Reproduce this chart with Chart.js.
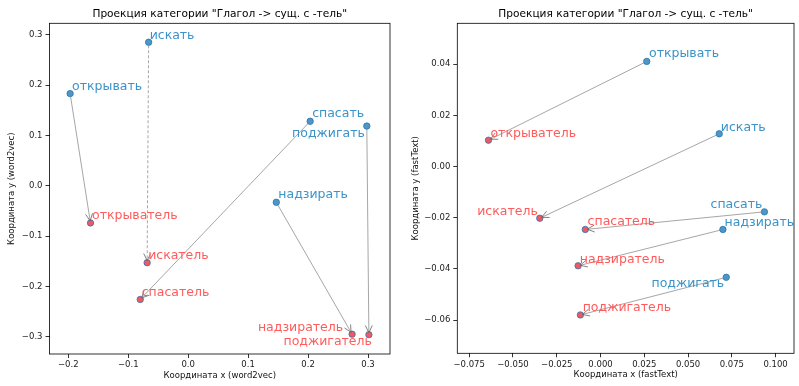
<!DOCTYPE html>
<html lang="ru">
<head>
<meta charset="utf-8">
<title>Проекция категории "Глагол -> сущ. с -тель"</title>
<script src="https://cdn.jsdelivr.net/npm/chart.js@4.4.1/dist/chart.umd.min.js"></script>
<style>
  html, body { margin: 0; padding: 0; background: #fff; }
  #wrap { position: relative; width: 799px; height: 386px; }
  canvas { position: absolute; top: 0; }
  #w2v { left: 0; }
  #ft { left: 400px; }
</style>
</head>
<body>
<div id="wrap">
  <canvas id="w2v" width="400" height="386"></canvas>
  <canvas id="ft" width="399" height="386"></canvas>
</div>
<script>
"use strict";

var TITLE = 'Проекция категории "Глагол -> сущ. с -тель"';

var VERBS = ["открывать", "искать", "спасать", "надзирать", "поджигать"];
var NOUNS = ["открыватель", "искатель", "спасатель", "надзиратель", "поджигатель"];

// word2vec
var W2V_VERB_X = [-0.197, -0.066, 0.2035, 0.147, 0.298];
var W2V_VERB_Y = [0.183, 0.285, 0.128, -0.033, 0.1185];
var W2V_NOUN_X = [-0.163, -0.0685, -0.080, 0.2735, 0.3015];
var W2V_NOUN_Y = [-0.074, -0.153, -0.226, -0.295, -0.296];
var W2V_X_TICKS = [-0.2, -0.1, 0.0, 0.1, 0.2, 0.3];
var W2V_Y_TICKS = [-0.3, -0.2, -0.1, 0.0, 0.1, 0.2, 0.3];

// fastText
var FT_VERB_X = [0.0264, 0.0678, 0.0936, 0.0699, 0.0718];
var FT_VERB_Y = [0.0411, 0.0128, -0.0177, -0.0246, -0.0433];
var FT_NOUN_X = [-0.0640, -0.0347, -0.0087, -0.0128, -0.0115];
var FT_NOUN_Y = [0.0103, -0.0202, -0.0246, -0.0388, -0.0580];
var FT_X_TICKS = [-0.075, -0.050, -0.025, 0.000, 0.025, 0.050, 0.075, 0.100];
var FT_Y_TICKS = [-0.06, -0.04, -0.02, 0.00, 0.02, 0.04];

// смещения подписей от точки, px: [dx, dy, выравнивание]
var W2V_VERB_PLACE = [[2, -4, "left"], [1, -3, "left"], [2, -4, "left"], [2, -4, "left"], [-2, 11, "right"]];
var W2V_NOUN_PLACE = [[1.5, -3.5, "left"], [1, -3.5, "left"], [1.5, -3.5, "left"], [-9, -3.5, "right"], [3, 10, "right"]];
var FT_VERB_PLACE = [[2.3, -4.3, "left"], [1.6, -3.3, "left"], [-2, -3.7, "right"], [1.7, -3.7, "left"], [-2, 9.5, "right"]];
var FT_NOUN_PLACE = [[2, -3.6, "left"], [-2, -3.3, "right"], [2.3, -4, "left"], [1.6, -3.3, "left"], [2.3, -4.3, "left"]];

var FONT = "'DejaVu Sans', sans-serif";
var BLUE_POINT = "rgba(31, 119, 180, 0.78)";
var RED_POINT = "rgba(240, 70, 80, 0.9)";
var BLUE_TEXT = "#3b93c9";
var RED_TEXT = "#ff5b5b";
var ARROW_COLOR = "rgba(128, 128, 128, 0.7)";

function toPoints(xs, ys) {
  return xs.map(function (x, i) { return { x: x, y: ys[i] }; });
}

function fmt(digits) {
  return function (v) {
    if (Math.abs(v) < 1e-9) v = 0;
    var s = Math.abs(v).toFixed(digits);
    return v < 0 ? "\u2212" + s : s;
  };
}

function drawArrow(ctx, x1, y1, x2, y2, dashed) {
  var ang = Math.atan2(y2 - y1, x2 - x1);
  var c = Math.cos(ang), s = Math.sin(ang);
  var sx = x1 + c * 3, sy = y1 + s * 3;
  var ex = x2 - c * 2, ey = y2 - s * 2;
  var len = 8, half = 0.45;
  ctx.save();
  ctx.strokeStyle = ARROW_COLOR;
  ctx.lineWidth = 1;
  if (dashed) ctx.setLineDash([3, 2]);
  ctx.beginPath();
  ctx.moveTo(sx, sy);
  ctx.lineTo(ex, ey);
  ctx.stroke();
  ctx.setLineDash([]);
  ctx.strokeStyle = "rgba(100, 100, 100, 0.8)";
  ctx.beginPath();
  ctx.moveTo(ex - len * Math.cos(ang - half), ey - len * Math.sin(ang - half));
  ctx.lineTo(ex, ey);
  ctx.lineTo(ex - len * Math.cos(ang + half), ey - len * Math.sin(ang + half));
  ctx.stroke();
  ctx.restore();
}

function annotPlugin(cfg) {
  return {
    id: "annot",
    afterDatasetsDraw: function (chart) {
      var ctx = chart.ctx;
      var xs = chart.scales.x, ys = chart.scales.y;
      var i, px, py;
      for (i = 0; i < cfg.verbX.length; i++) {
        drawArrow(ctx,
          xs.getPixelForValue(cfg.verbX[i]), ys.getPixelForValue(cfg.verbY[i]),
          xs.getPixelForValue(cfg.nounX[i]), ys.getPixelForValue(cfg.nounY[i]),
          cfg.dashed.indexOf(i) >= 0);
      }
      ctx.save();
      ctx.font = "12.5px " + FONT;
      ctx.textBaseline = "alphabetic";
      function label(text, x, y, place, color) {
        px = xs.getPixelForValue(x);
        py = ys.getPixelForValue(y);
        ctx.fillStyle = color;
        ctx.textAlign = place[2];
        ctx.fillText(text, px + place[0], py + place[1]);
      }
      for (i = 0; i < VERBS.length; i++) {
        label(VERBS[i], cfg.verbX[i], cfg.verbY[i], cfg.verbPlace[i], BLUE_TEXT);
        label(NOUNS[i], cfg.nounX[i], cfg.nounY[i], cfg.nounPlace[i], RED_TEXT);
      }
      ctx.restore();
    },
    afterDraw: function (chart) {
      var ctx = chart.ctx, a = chart.chartArea;
      ctx.save();
      ctx.strokeStyle = "#000";
      ctx.lineWidth = 0.8;
      ctx.strokeRect(a.left, a.top, a.right - a.left, a.bottom - a.top);
      ctx.fillStyle = "#000";
      ctx.font = "10.6px " + FONT;
      ctx.textAlign = "center";
      ctx.textBaseline = "middle";
      ctx.fillText(TITLE, (a.left + a.right) / 2, 14);
      ctx.restore();
    }
  };
}

function render(canvasId, cfg) {
  var canvas = document.getElementById(canvasId);
  return new Chart(canvas, {
    type: "scatter",
    data: {
      datasets: [{
        data: toPoints(cfg.verbX, cfg.verbY),
        backgroundColor: BLUE_POINT,
        borderColor: BLUE_POINT,
        borderWidth: 1,
        pointRadius: 3.2
      }, {
        data: toPoints(cfg.nounX, cfg.nounY),
        backgroundColor: RED_POINT,
        borderColor: "rgba(31, 119, 180, 0.75)",
        borderWidth: 1,
        pointRadius: 3.2
      }]
    },
    options: {
      responsive: false,
      animation: false,
      devicePixelRatio: 1,
      layout: { padding: { top: 23.3, right: cfg.padRight, left: 0, bottom: 0 } },
      plugins: { legend: { display: false }, tooltip: { enabled: false } },
      scales: {
        x: {
          type: "linear",
          min: cfg.xMin, max: cfg.xMax,
          afterBuildTicks: function (s) { s.ticks = cfg.xTicks.map(function (v) { return { value: v }; }); },
          afterFit: function (s) { s.height = cfg.xAxisH; },
          grid: { drawOnChartArea: false, drawTicks: true, tickLength: 4, color: "#000", lineWidth: 0.8 },
          border: { display: false },
          ticks: { color: "#222", padding: 2, maxRotation: 0, font: { family: FONT, size: 8.5 }, callback: fmt(cfg.xDigits) },
          title: { display: true, text: cfg.xTitle, color: "#111", font: { family: FONT, size: 8.5 }, padding: { top: 0, bottom: cfg.xTitlePad } }
        },
        y: {
          type: "linear",
          min: cfg.yMin, max: cfg.yMax,
          afterBuildTicks: function (s) { s.ticks = cfg.yTicks.map(function (v) { return { value: v }; }); },
          afterFit: function (s) { s.width = cfg.yAxisW; },
          grid: { drawOnChartArea: false, drawTicks: true, tickLength: 4, color: "#000", lineWidth: 0.8 },
          border: { display: false },
          ticks: { color: "#222", padding: 3, font: { family: FONT, size: 8.5 }, callback: fmt(cfg.yDigits) },
          title: { display: true, text: cfg.yTitle, color: "#111", font: { family: FONT, size: 8.5 }, padding: { top: cfg.yTitlePad, bottom: 0 } }
        }
      }
    },
    plugins: [annotPlugin(cfg)]
  });
}

render("w2v", {
  verbX: W2V_VERB_X, verbY: W2V_VERB_Y, nounX: W2V_NOUN_X, nounY: W2V_NOUN_Y,
  verbPlace: W2V_VERB_PLACE, nounPlace: W2V_NOUN_PLACE, dashed: [1],
  xTicks: W2V_X_TICKS, yTicks: W2V_Y_TICKS, xDigits: 1, yDigits: 1,
  xMin: -0.2314, xMax: 0.3367, yMin: -0.3344, yMax: 0.3227,
  xTitle: "Координата x (word2vec)", yTitle: "Координата y (word2vec)",
  yAxisW: 49.5, xAxisH: 32, padRight: 10, xTitlePad: 5, yTitlePad: 7
});

render("ft", {
  verbX: FT_VERB_X, verbY: FT_VERB_Y, nounX: FT_NOUN_X, nounY: FT_NOUN_Y,
  verbPlace: FT_VERB_PLACE, nounPlace: FT_NOUN_PLACE, dashed: [],
  xTicks: FT_X_TICKS, yTicks: FT_Y_TICKS, xDigits: 3, yDigits: 2,
  xMin: -0.0818, xMax: 0.1105, yMin: -0.073, yMax: 0.056,
  xTitle: "Координата x (fastText)", yTitle: "Координата y (fastText)",
  yAxisW: 57.3, xAxisH: 32.7, padRight: 4, xTitlePad: 6, yTitlePad: 11
});
</script>
</body>
</html>
